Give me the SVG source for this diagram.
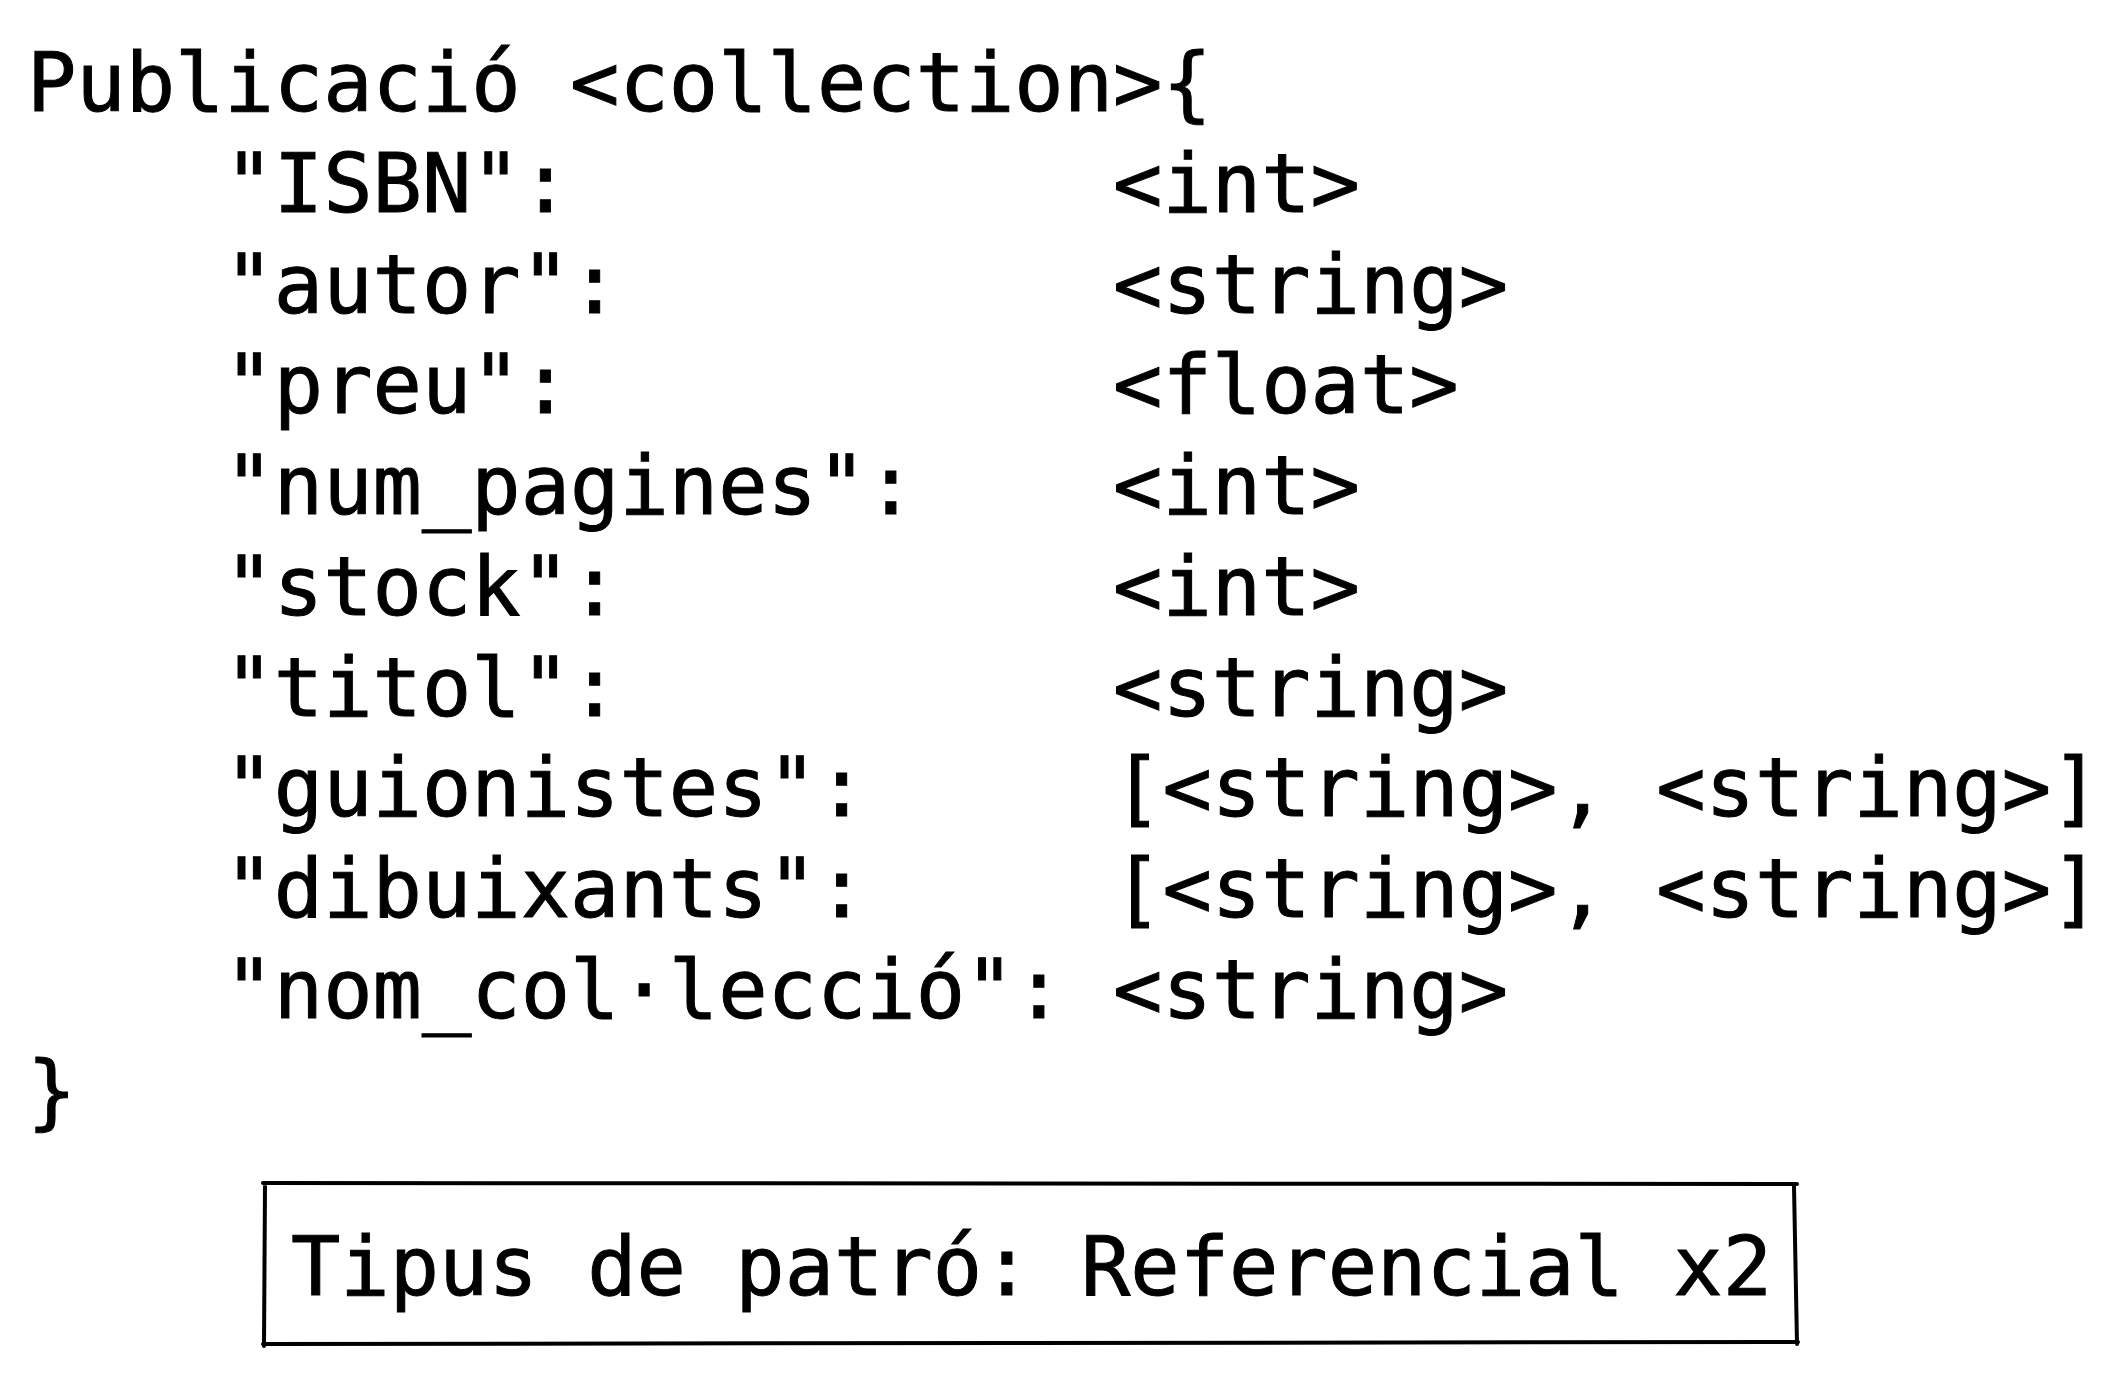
<svg xmlns="http://www.w3.org/2000/svg" width="2127" height="1374" viewBox="0 0 2127 1374">
<style>
.t{font-family:"DejaVu Sans Mono","Liberation Mono",monospace;font-size:82px;fill:#000;stroke:#000;stroke-width:1;white-space:pre}
.box{fill:none;stroke:#000;stroke-width:4;stroke-linecap:round;stroke-linejoin:round}
</style>
<rect width="2127" height="1374" fill="#fff"/>
<g id="schema" xml:space="preserve">
<text class="t" x="27" y="111">Publicació &lt;collection&gt;{</text>
<text class="t" x="27" y="212">    "ISBN":           &lt;int&gt;</text>
<text class="t" x="27" y="313">    "autor":          &lt;string&gt;</text>
<text class="t" x="27" y="413">    "preu":           &lt;float&gt;</text>
<text class="t" x="27" y="514">    "num_pagines":    &lt;int&gt;</text>
<text class="t" x="27" y="615">    "stock":          &lt;int&gt;</text>
<text class="t" x="27" y="716">    "titol":          &lt;string&gt;</text>
<text class="t" x="27" y="816">    "guionistes":     [&lt;string&gt;, &lt;string&gt;]</text>
<text class="t" x="27" y="917">    "dibuixants":     [&lt;string&gt;, &lt;string&gt;]</text>
<text class="t" x="27" y="1018">    "nom_col·lecció": &lt;string&gt;</text>
<text class="t" x="27" y="1119">}</text>
</g>
<g id="pattern">
<path class="box" d="M263 1183 L1797 1184 M1794 1186 L1797 1344 M1798 1342 L263 1344 M264 1346 L265 1186"/>
<text class="t" x="291" y="1295">Tipus de patró: Referencial x2</text>
</g>
<g id="connectors"/>
</svg>
